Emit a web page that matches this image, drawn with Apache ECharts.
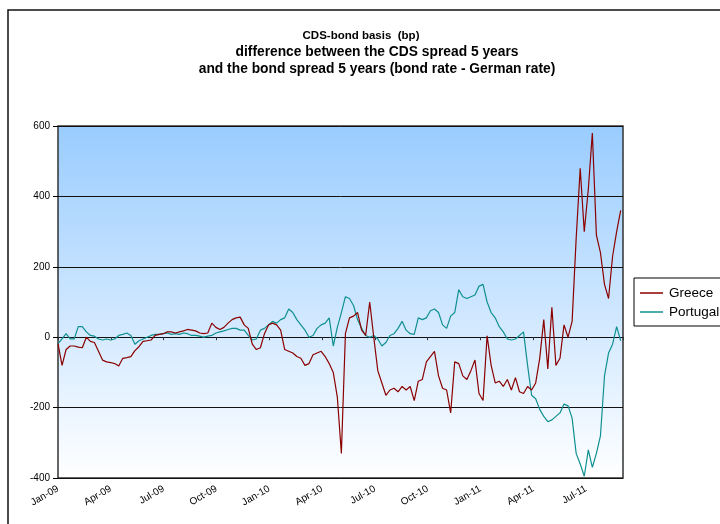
<!DOCTYPE html>
<html>
<head>
<meta charset="utf-8">
<script src="https://cdn.jsdelivr.net/npm/echarts@6/dist/echarts.min.js"></script>
<style>
  html, body { margin: 0; padding: 0; background: #fff; }
  #main { width: 720px; height: 524px; }
</style>
</head>
<body>
<div id="main"></div>
<script>
// weekly readings, starting 1 Jan 2009 (x = days since that date)
var startDay = 0;
var stepDays = 7;
var greece = [
  -18, -80, -35, -25, -25, -28, -30, 0, -12, -15,
  -40, -65, -70, -72, -75, -82, -60, -58, -55, -38,
  -27, -12, -10, -8, 5, 8, 10, 15, 15, 12,
  15, 18, 22, 20, 18, 12, 10, 12, 40, 28,
  22, 28, 40, 50, 55, 57, 35, 25, -20, -35,
  -30, 10, 35, 40, 35, 20, -35, -40, -45, -55,
  -60, -80, -75, -50, -45, -40, -55, -75, -100, -170,
  -330, 10, 55, 60, 70, 20, 5, 100, 0, -95,
  -130, -165, -150, -145, -155, -140, -150, -140, -180, -125,
  -120, -70, -55, -40, -110, -145, -150, -215, -70, -75,
  -110, -120, -95, -65, -160, -180, 4, -80, -130, -125,
  -140, -120, -150, -115, -155, -160, -140, -150, -130, -60,
  50, -90, 85, -80, -60, 35, 0, 45, 280, 480,
  300, 420, 580, 290, 240, 150, 110, 230, 300, 360
];
var portugal = [
  -18, -5, 10, -5, -5, 30, 30, 15, 5, 3,
  -5, -8, -5, -8, -5, 5, 8, 12, 5, -20,
  -10, -5, 0, 5, 8, 8, 10, 12, 8, 10,
  8, 12, 10, 5, 5, 3, 0, 3, 5, 12,
  15, 18, 22, 25, 25, 20, 20, 5, -8, -5,
  20, 25, 35, 45, 40, 50, 55, 80, 70, 50,
  35, 20, 0, 5, 25, 35, 40, 55, -25, 28,
  70, 115, 110, 90, 50, 25, 5, 0, 5, -5,
  -25, -15, 5, 10, 25, 45, 20, 10, 8, 55,
  50, 55, 75, 80, 70, 35, 25, 60, 70, 135,
  115, 110, 115, 120, 145, 150, 100, 70, 55, 30,
  15, -5, -8, -5, 5, 15, -80, -165, -175, -205,
  -225, -240, -235, -225, -215, -190, -195, -230, -330, -360,
  -395, -320, -370, -330, -280, -110, -45, -20, 30, -10
];
var tickLabels = ['Jan-09', 'Apr-09', 'Jul-09', 'Oct-09', 'Jan-10', 'Apr-10',
  'Jul-10', 'Oct-10', 'Jan-11', 'Apr-11', 'Jul-11'];
var quarter = 365.25 / 4;

function toPairs(arr) {
  var out = [];
  for (var i = 0; i < arr.length; i++) {
    out.push([startDay + i * stepDays, arr[i]]);
  }
  return out;
}

var myChart = echarts.init(document.getElementById('main'));
var font = '"Liberation Sans", Arial, sans-serif';

var option = {
  animation: false,
  backgroundColor: '#fff',
  title: [{
    text: 'CDS-bond basis  (bp)',
    left: 356,
    top: 22,
    textAlign: 'center',
    textStyle: { fontFamily: font, fontSize: 11.5, fontWeight: 'bold', color: '#000', lineHeight: 17 }
  }, {
    text: 'difference between the CDS spread 5 years\nand the bond spread 5 years (bond rate - German rate)',
    left: 372,
    top: 38,
    textAlign: 'center',
    textStyle: { fontFamily: font, fontSize: 13.8, fontWeight: 'bold', color: '#000', lineHeight: 17.5 }
  }],
  legend: {
    orient: 'vertical',
    left: 634,
    top: 278,
    padding: [8, 60, 7, 6],
    itemGap: 5,
    itemWidth: 23,
    itemHeight: 1.5,
    icon: 'rect',
    borderColor: '#000',
    borderWidth: 1,
    textStyle: { fontFamily: font, fontSize: 13.5, color: '#000', lineHeight: 14, padding: [0, 0, 0, 1] },
    data: ['Greece', 'Portugal']
  },
  graphic: [{
    type: 'rect',
    shape: { x: 8, y: 10, width: 800, height: 600 },
    style: { fill: null, stroke: '#111', lineWidth: 1.5 },
    silent: true,
    z: -1
  }],
  grid: {
    left: 58, top: 126, right: 97, bottom: 46,
    show: true,
    borderColor: '#333',
    borderWidth: 1.5,
    backgroundColor: new echarts.graphic.LinearGradient(0, 0, 0, 1, [
      { offset: 0, color: '#99ccff' },
      { offset: 1, color: '#ffffff' }
    ])
  },
  xAxis: [{
    type: 'value',
    min: 0,
    max: 977,
    interval: quarter,
    axisLine: { onZero: false, show: false },
    axisTick: { show: false },
    splitLine: { show: false },
    axisLabel: {
      rotate: 30,
      margin: 10,
      fontFamily: font,
      fontSize: 10,
      color: '#000',
      showMaxLabel: false,
      formatter: function (v) {
        var idx = Math.round(v / quarter);
        if (Math.abs(v - idx * quarter) > 1) return '';
        return tickLabels[idx] || '';
      }
    }
  }, {
    type: 'value',
    position: 'bottom',
    min: 0,
    max: 977,
    interval: quarter,
    axisLine: { show: false, onZero: true },
    axisTick: { show: true, length: 3, lineStyle: { color: '#333' } },
    axisLabel: { show: false },
    splitLine: { show: false }
  }],
  yAxis: {
    type: 'value',
    min: -400,
    max: 600,
    interval: 200,
    axisLine: { show: false },
    axisTick: { show: true, length: 5, lineStyle: { color: '#000' } },
    axisLabel: { fontFamily: font, fontSize: 10, color: '#000', margin: 8 },
    splitLine: { lineStyle: { color: '#111', width: 1 } }
  },
  series: [{
    name: 'Greece',
    type: 'line',
    symbol: 'none',
    data: toPairs(greece),
    lineStyle: { color: '#8b0000', width: 1.2 },
    itemStyle: { color: '#8b0000' },
    z: 3
  }, {
    name: 'Portugal',
    type: 'line',
    symbol: 'none',
    data: toPairs(portugal),
    lineStyle: { color: '#0f9090', width: 1.2 },
    itemStyle: { color: '#0f9090' },
    z: 2
  }]
};

myChart.setOption(option);
window.onresize = myChart.resize;
</script>
</body>
</html>
